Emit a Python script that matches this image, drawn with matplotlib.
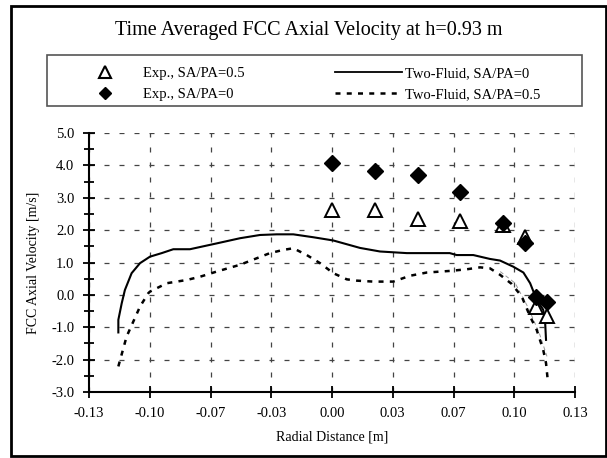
import numpy as np
import matplotlib.pyplot as plt
from matplotlib.lines import Line2D
from matplotlib.patches import Rectangle

plt.rcParams['font.family'] = ['Liberation Serif', 'DejaVu Serif']

# pomiary (Exp.)
exp_x = [0.000, 0.023, 0.046, 0.0685, 0.0915, 0.103, 0.109, 0.115]
exp_sa0 = [4.08, 3.83, 3.70, 3.18, 2.22, 1.60, -0.08, -0.22]
exp_sa05 = [2.62, 2.62, 2.35, 2.28, 2.16, 1.80, -0.37, -0.64]

# symulacja Two-Fluid, SA/PA=0
tf0_x = [-0.1143, -0.1143, -0.1125, -0.1108, -0.1072, -0.1027, -0.0974, -0.0911,
         -0.0849, -0.0760, -0.0617, -0.0492, -0.0385, -0.0296, -0.0207, -0.0100,
         0.0007, 0.0150, 0.0257, 0.0400, 0.0630, 0.0667, 0.0756, 0.0845,
         0.0899, 0.0970, 0.1024, 0.1060, 0.1095, 0.1130, 0.1140, 0.1145]
tf0_y = [-1.16, -0.77, -0.26, 0.15, 0.67, 0.98, 1.18, 1.29,
         1.41, 1.41, 1.59, 1.75, 1.85, 1.87, 1.87, 1.78,
         1.68, 1.45, 1.34, 1.29, 1.29, 1.23, 1.23, 1.11,
         1.06, 0.87, 0.69, 0.36, -0.15, -0.46, -0.82, -1.39]

# symulacja Two-Fluid, SA/PA=0.5
tf05_x = [-0.1143, -0.1099, -0.1027, -0.0983, -0.0974, -0.0884, -0.0777, -0.0706,
          -0.0617, -0.0492, -0.0403, -0.0332, -0.0260, -0.0207, -0.0135, -0.0064,
          0.0007, 0.0079, 0.0132, 0.0221, 0.0328, 0.0417, 0.0507, 0.0631,
          0.0720, 0.0792, 0.0845, 0.0899, 0.0961, 0.1015, 0.1060, 0.1095,
          0.1130, 0.1145, 0.1154]
tf05_y = [-2.21, -1.29, -0.36, 0.05, 0.10, 0.36, 0.46, 0.56,
          0.72, 0.93, 1.13, 1.29, 1.39, 1.44, 1.23, 0.98,
          0.67, 0.48, 0.44, 0.41, 0.41, 0.59, 0.69, 0.74,
          0.79, 0.85, 0.82, 0.62, 0.34, -0.05, -0.67, -1.08,
          -1.70, -2.11, -2.62]

# cienka szara linia przy scianie
gray_x = [0.0900, 0.0980, 0.1050, 0.1110, 0.1150]
gray_y = [0.72, 0.36, -0.40, -1.20, -1.90]

x_tick_labels = ['-0.13', '-0.10', '-0.07', '-0.03', '0.00', '0.03', '0.07', '0.10', '0.13']
y_tick_labels = ['-3.0', '-2.0', '-1.0', '0.0', '1.0', '2.0', '3.0', '4.0', '5.0']

fig = plt.figure(figsize=(6.07, 4.58), dpi=100)
ax = fig.add_axes([89 / 607, 1 - 392 / 458, (575 - 89) / 607, (392 - 133) / 458])

ax.plot(gray_x, gray_y, color='#999999', lw=0.7, ls=(0, (4, 3)), zorder=2)
ax.plot(tf0_x, tf0_y, color='black', lw=1.5, zorder=3)
ax.plot(tf05_x, tf05_y, color='black', lw=1.8, ls=(0, (2, 2.5)), zorder=3)
ax.plot(exp_x, exp_sa05, ls='none', marker='^', ms=9.5, mfc='white', mec='black', mew=1.4, zorder=4)
ax.plot(exp_x, exp_sa0, ls='none', marker='D', ms=8, mfc='black', mec='black', zorder=5)

ax.set_xlim(-0.13, 0.13)
ax.set_ylim(-3, 5)
ax.set_xticks(np.linspace(-0.13, 0.13, 9))
ax.set_xticklabels(x_tick_labels)
ax.set_yticks(np.arange(-3, 6, 1))
ax.set_yticklabels(y_tick_labels)
ax.set_yticks(np.arange(-3, 5.01, 0.5), minor=True)
ax.tick_params(axis='both', which='major', direction='inout', length=9, width=1.3,
               labelsize=10.5, colors='black', pad=6)
ax.tick_params(axis='y', which='minor', direction='inout', length=7, width=1.3)
for s in ['top', 'right']:
    ax.spines[s].set_visible(False)
for s in ['left', 'bottom']:
    ax.spines[s].set_linewidth(1.5)
ax.grid(True, which='major', color='#444444', lw=0.9, ls=(0, (4, 8)))

ax.set_xlabel('Radial Distance [m]', fontsize=10, labelpad=8)
ax.set_ylabel('FCC Axial Velocity [m/s]', fontsize=10, labelpad=8)

fig.text(0.508, 1 - 31 / 458, 'Time Averaged FCC Axial Velocity at h=0.93 m',
         ha='center', va='center', fontsize=14.5)

# legenda - ramka i dwie kolumny
fig.patches.append(Rectangle((47 / 607, 1 - 106 / 458), (582 - 47) / 607, 51 / 458,
                             transform=fig.transFigure, fill=False, edgecolor='#555555', lw=1.2))
h1 = [Line2D([], [], ls='none', marker='^', ms=8, mfc='white', mec='black', mew=1.5),
      Line2D([], [], ls='none', marker='D', ms=6.5, mfc='black', mec='black')]
fig.legend(h1, ['Exp., SA/PA=0.5', 'Exp., SA/PA=0'], loc='upper left',
           bbox_to_anchor=(79 / 607, 1 - 60 / 458), frameon=False, fontsize=10.5,
           handlelength=2.6, handletextpad=1.3, borderpad=0, labelspacing=0.5)
h2 = [Line2D([], [], color='black', lw=1.3),
      Line2D([], [], color='black', lw=1.8, ls=(0, (2, 2.5)))]
fig.legend(h2, ['Two-Fluid, SA/PA=0', 'Two-Fluid, SA/PA=0.5'], loc='upper left',
           bbox_to_anchor=(328 / 607, 1 - 60 / 458), frameon=False, fontsize=10.5,
           handlelength=4.6, handletextpad=0.15, borderpad=0, labelspacing=0.5)

# zewnetrzna ramka wykresu
fig.patches.append(Rectangle((11 / 607, 2 / 458), (606 - 11) / 607, (454 - 4) / 458,
                             transform=fig.transFigure, fill=False, edgecolor='black', lw=2))

fig.savefig('out.png', dpi=100)
